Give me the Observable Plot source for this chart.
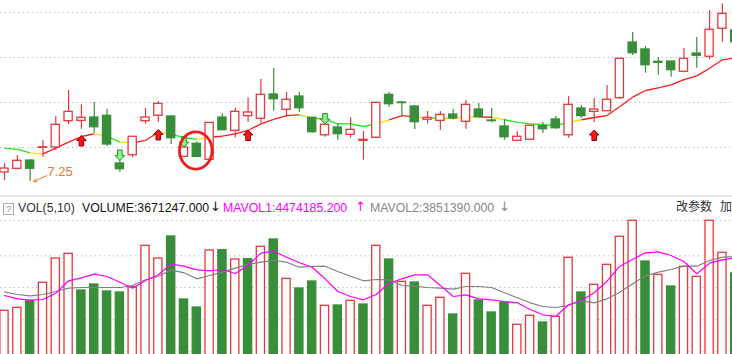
<!DOCTYPE html>
<html><head><meta charset="utf-8">
<script src="https://cdn.jsdelivr.net/npm/d3@7"></script>
<script src="https://cdn.jsdelivr.net/npm/@observablehq/plot@0.6"></script>
<style>
html,body{margin:0;padding:0;background:#fff;overflow:hidden;width:732px;height:354px;}
#wrap{position:relative;width:732px;height:354px;overflow:hidden;}
#top{position:absolute;left:0;top:0;width:732px;height:195px;overflow:hidden;}
#sep{position:absolute;left:0;top:195px;width:732px;height:2px;background:#e6e6e6;}
#hdr{position:absolute;left:0;top:197px;width:732px;height:21px;font-family:"Liberation Sans",Arial,sans-serif;font-size:12.3px;line-height:14px;}
#hdr span{position:absolute;top:4px;white-space:nowrap;}
#hdr span.ar{font-family:"DejaVu Sans",sans-serif;font-size:13px;top:3px;}
#hdr .cn{font-family:"Noto Sans CJK SC",sans-serif;font-size:12px;top:2px;color:#333;}
#qbox{position:absolute;left:3px;top:6px;width:9px;height:10px;border:1px solid #aaa;font-size:9px;line-height:10px;text-align:center;color:#888;}
#bot{position:absolute;left:0;top:218px;width:732px;height:136px;overflow:hidden;}
svg{display:block;}
</style></head>
<body><div id="wrap"><div id="top"></div><div id="sep"></div><div id="hdr"></div><div id="bot"></div></div>
<script>
// ---------- price data (candles) ----------
const openP  = [7.350,7.391,7.483,7.624,7.628,7.920,7.924,7.961,7.980,7.450, 7.542,7.920,7.980,7.972,7.524,7.669,7.491,7.961,7.813,7.976, 7.947,8.217,8.047,8.194,7.958,7.764,7.850,7.769,7.702,7.736, 8.213,8.128,8.083,7.936,7.924,7.994,7.913,8.050,7.928,7.861, 7.702,7.713,7.864,7.939,7.764,8.061,8.024,8.031,8.176,8.794, 8.717,8.580,8.583,8.469,8.672,8.636,8.947,8.928];
const closeP = [7.394,7.480,7.391,7.630,7.880,8.024,7.958,7.853,7.661,7.387, 7.747,7.961,8.113,7.731,7.628,7.524,7.902,7.820,8.024,8.017, 8.213,8.164,8.158,8.064,7.798,7.880,7.776,7.824,7.713,8.124, 8.109,8.121,7.909,7.958,7.991,7.950,8.102,7.964,7.921,7.742, 7.747,7.869,7.831,7.842,8.102,7.976,8.050,8.158,8.613,8.676, 8.542,8.569,8.487,8.613,8.647,8.936,9.113,8.798];
const highP  = [7.450,7.539,7.489,7.706,7.972,8.261,8.102,8.128,8.053,7.494, 7.747,8.061,8.139,7.978,7.661,7.691,7.902,8.002,8.064,8.180, 8.383,8.506,8.239,8.239,7.958,7.894,7.891,7.958,7.806,8.124, 8.239,8.139,8.094,8.028,8.028,8.050,8.150,8.117,8.061,7.939, 7.806,7.869,7.906,7.972,8.194,8.094,8.172,8.317,8.613,8.906, 8.750,8.628,8.583,8.728,8.850,9.150,9.224,8.950];
const lowP   = [7.261,7.391,7.250,7.520,7.594,7.883,7.831,7.787,7.639,7.353, 7.513,7.887,7.909,7.661,7.524,7.524,7.491,7.820,7.736,7.906, 7.898,8.031,7.964,8.020,7.787,7.742,7.709,7.731,7.487,7.736, 8.076,7.964,7.828,7.887,7.820,7.936,7.831,7.958,7.902,7.709, 7.691,7.713,7.787,7.831,7.731,7.953,7.906,8.031,8.161,8.650, 8.453,8.431,8.409,8.458,8.509,8.602,8.798,8.783];
// moving average of price and the colour of each of its segments (r rising, g falling, y flat)
const maP = [7.620,7.606,7.569,7.558,7.620,7.687,7.750,7.780,7.753,7.687, 7.680,7.706,7.798,7.780,7.736,7.717,7.742,7.753,7.780,7.817, 7.891,7.939,7.983,7.991,7.958,7.939,7.891,7.891,7.861,7.891, 7.936,7.983,7.969,7.953,7.958,7.950,7.969,7.969,7.964,7.936, 7.906,7.891,7.883,7.872,7.906,7.936,7.961,7.983,8.083,8.187, 8.261,8.291,8.324,8.383,8.424,8.509,8.602,8.624];
const maSegColor = "ggyrrrrygyrryggyrrrrrrrygggggyrrygyyyrygggggyrrrrrrrrrrrrr".split("");
const priceGrid = [7.628, 8.128, 8.628, 9.128];
// signals
const buyIdx = [6, 12, 19, 46];
const buyAt  = [7.700, 7.767, 7.761, 7.761];
const sellIdx = [9, 14, 25];
const sellAt  = [7.544, 7.694, 7.950];
const circleIdx = [14.92];
const circleAt  = [7.594];
const lowLabelIdx = [2];
const lowLabelVal = [7.25];
const lowLabelText = ["7.25"];

// ---------- volume data (unit: 10k) ----------
const vol = [210.2,224.0,254.4,339.0,450.8,472.4,303.6,331.2,299.0,294.4, 318.8,509.2,450.8,552.0,262.2,225.4,487.6,489.0,446.2,447.6, 504.6,538.2,357.4,312.8,345.0,233.2,234.6,256.2,239.2,509.2, 446.2,343.6,340.4,233.2,270.0,193.2,380.4,257.6,202.4,248.4, 145.8,187.2,156.4,182.6,454.0,294.4,329.8,421.8,550.6,624.2, 437.0,375.8,322.0,412.6,366.6,624.2,477.0,381.8];
const volDir = "rrgrrrggggrrrgggrgrgrgrggrgrgrgrgrrgrgggrrgrrgrrrrgrgrrrrg".split("");
const mavol1 = [280.6,265.4,259.0,262.2,291.2,348.2,362.0,378.6,368.0,341.8, 314.2,349.6,375.8,424.6,415.4,398.8,394.2,400.2,381.8,418.6, 475.2,484.4,456.8,431.0,410.8,357.4,299.0,276.0,260.8,285.2, 337.2,357.4,375.8,375.8,326.6,276.0,283.8,265.4,260.8,253.0, 247.0,216.2,191.8,184.0,237.8,257.6,293.0,346.4,415.4,447.6, 477.0,481.6,464.6,437.0,380.4,429.2,444.8,454.0];
const mavol2 = [297.6,285.2,279.2,285.2,299.0,314.2,317.4,317.4,317.4,317.4, 326.6,352.8,368.0,398.8,385.0,357.4,372.6,387.8,406.2,423.2, 433.8,441.6,433.8,410.8,414.0,415.4,391.0,369.4,348.2,354.2, 352.8,326.6,323.4,317.4,314.2,309.6,322.0,322.0,317.4,293.0, 270.0,247.0,230.0,225.4,234.6,256.2,247.0,265.4,295.8,334.4, 371.2,387.8,400.2,415.4,415.4,441.6,456.8,458.6];
const volGrid = [21.6, 168.8, 317.4, 463.2, 625.6];

// ---------- header texts ----------
const headerItems = [
  {t:"VOL(5,10)", x:18, c:"#333"},
  {t:"VOLUME:3671247.000", x:82, c:"#111"},
  {t:"\u2193", x:210, c:"#111", ar:true},
  {t:"MAVOL1:4474185.200", x:223, c:"#ff00ff"},
  {t:"\u2191", x:355, c:"#ff00ff", ar:true},
  {t:"MAVOL2:3851390.000", x:370, c:"#888"},
  {t:"\u2193", x:499, c:"#888", ar:true}
];
const headerCn = [{t:"改参数", x:676}, {t:"加", x:720}];

// ---------- build ----------
const RED = "#e8383d", GREEN = "#398e3a";
const candles = openP.map((o,i)=>({i, open:o, close:closeP[i], high:highP[i], low:lowP[i], up: closeP[i] >= o}));
const maSegs = maSegColor.map((c,i)=>({i1:i, i2:i+1, p1:maP[i], p2:maP[i+1], c: c==="r" ? "#ff1a1a" : c==="g" ? "#1ee81e" : "#f2e600"}));
const buys = buyIdx.map((i,k)=>({i, p:buyAt[k]}));
const sells = sellIdx.map((i,k)=>({i, p:sellAt[k]}));
const circ = circleIdx.map((i,k)=>({i, p:circleAt[k]}));
const lowLab = lowLabelIdx.map((i,k)=>({i, p:lowLabelVal[k], t:lowLabelText[k]}));
const vols = vol.map((v,i)=>({i, v, up: volDir[i]==="r", m1:mavol1[i], m2:mavol2[i]}));

const upArrow = {draw(c){c.moveTo(0,-5.5);c.lineTo(4.8,-0.5);c.lineTo(2.3,-0.5);c.lineTo(2.3,5);c.lineTo(-2.3,5);c.lineTo(-2.3,-0.5);c.lineTo(-4.8,-0.5);c.closePath();}};
const downArrow = {draw(c){c.moveTo(0,5.5);c.lineTo(4.8,0.5);c.lineTo(2.3,0.5);c.lineTo(2.3,-5);c.lineTo(-2.3,-5);c.lineTo(-2.3,0.5);c.lineTo(-4.8,0.5);c.closePath();}};
const ellipse = {draw(c){const rx=16.3, ry=18.6, k=0.5523;
  c.moveTo(rx,0);
  c.bezierCurveTo(rx,ry*k,rx*k,ry,0,ry);
  c.bezierCurveTo(-rx*k,ry,-rx,ry*k,-rx,0);
  c.bezierCurveTo(-rx,-ry*k,-rx*k,-ry,0,-ry);
  c.bezierCurveTo(rx*k,-ry,rx,-ry*k,rx,0);
  c.closePath();}};

const xScale = {type:"linear", domain:[0,57], range:[4, 4+57*12.82], axis:null};
const HW = 0.32;

const topPlot = Plot.plot({
  width:732, height:195, margin:0,
  x: xScale,
  y: {domain:[7.25-14/90, 7.25+181/90], range:[195,0], axis:null},
  style:{background:"transparent"},
  marks:[
    Plot.ruleY(priceGrid, {stroke:"#c4c4c4", strokeDasharray:"1.5,3", strokeWidth:1}),
    Plot.link(maSegs, {x1:"i1", x2:"i2", y1:"p1", y2:"p2", stroke:"c", strokeWidth:1.3, clip:true}),
    Plot.ruleX(candles, {x:"i", y1:"low", y2:"high", stroke:d=>d.up?RED:GREEN, strokeWidth:1.2, clip:true}),
    Plot.rect(candles, {x1:d=>d.i-HW, x2:d=>d.i+HW, y1:"open", y2:"close", fill:d=>d.up?"#fff":GREEN, stroke:d=>d.up?RED:GREEN, strokeWidth:1.3, clip:true}),
    Plot.dot(buys, {x:"i", y:"p", symbol:upArrow, fill:"#f01818", stroke:"#9a0000", strokeWidth:1}),
    Plot.dot(sells, {x:"i", y:"p", symbol:downArrow, fill:"#8cf58c", stroke:"#1f8f1f", strokeWidth:1}),
    Plot.dot(circ, {x:"i", y:"p", symbol:ellipse, fill:"none", stroke:"#ee1c1c", strokeWidth:2.8}),
    Plot.arrow(lowLab, {x1:d=>d.i+1.3, y1:d=>d.p+0.065, x2:d=>d.i+0.28, y2:"p", stroke:"#f0782a", strokeWidth:1, headLength:5}),
    Plot.text(lowLab, {x:d=>d.i+1.354, y:d=>d.p+0.111, text:"t", textAnchor:"start", fill:"#f0782a", fontSize:13, fontFamily:"Liberation Sans, Arial, sans-serif"})
  ]
});
document.getElementById("top").appendChild(topPlot);

const botPlot = Plot.plot({
  width:732, height:136, margin:0,
  x: xScale,
  y: {domain:[0, 138*4.6], range:[138,0], axis:null},
  style:{background:"transparent"},
  marks:[
    Plot.ruleY(volGrid, {stroke:"#c4c4c4", strokeDasharray:"1.5,3", strokeWidth:1}),
    Plot.rect(vols, {x1:d=>d.i-HW, x2:d=>d.i+HW, y1:0, y2:"v", fill:d=>d.up?"#fff":GREEN, stroke:d=>d.up?RED:GREEN, strokeWidth:1.3, clip:true}),
    Plot.line(vols, {x:"i", y:"m2", stroke:"#808080", strokeWidth:1.2, clip:true}),
    Plot.line(vols, {x:"i", y:"m1", stroke:"#ff00ff", strokeWidth:1.2, clip:true})
  ]
});
document.getElementById("bot").appendChild(botPlot);

const hdr = document.getElementById("hdr");
const q = document.createElement("div"); q.id = "qbox"; q.textContent = "?"; hdr.appendChild(q);
for (const h of headerItems) { const s = document.createElement("span"); s.textContent = h.t; s.style.left = h.x+"px"; s.style.color = h.c; if (h.ar) s.className = "ar"; hdr.appendChild(s); }
for (const h of headerCn) { const s = document.createElement("span"); s.className = "cn"; s.textContent = h.t; s.style.left = h.x+"px"; hdr.appendChild(s); }
</script>
</body></html>
